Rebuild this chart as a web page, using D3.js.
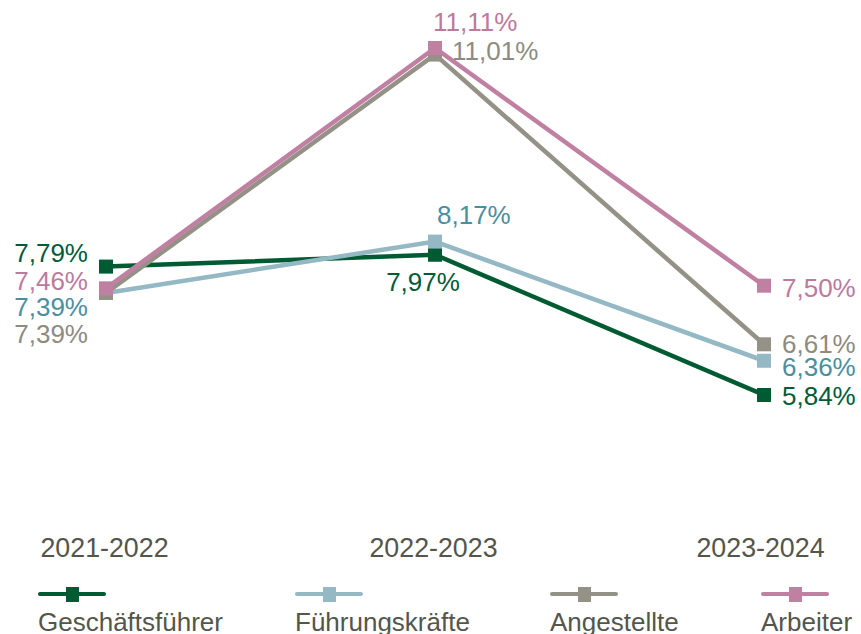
<!DOCTYPE html>
<html>
<head>
<meta charset="utf-8">
<script src="https://cdn.jsdelivr.net/npm/d3@7"></script>
<style>
  body { margin: 0; background: #fff; }
  svg text { font-family: "Liberation Sans", Arial, sans-serif; }
</style>
</head>
<body>
<div id="chart"></div>
<script>
var periods = ["2021-2022", "2022-2023", "2023-2024"];
var seriesNames = ["Geschäftsführer", "Führungskräfte", "Angestellte", "Arbeiter"];
var geschaeftsfuehrer = [7.79, 7.97, 5.84];
var fuehrungskraefte = [7.39, 8.17, 6.36];
var angestellte = [7.39, 11.01, 6.61];
var arbeiter = [7.46, 11.11, 7.50];

var lineColors = ["#005a32", "#95b9c4", "#949286", "#c080a2"];
var textColors = ["#005c36", "#4c8e9e", "#8e8b7e", "#bc7a9d"];

// label placement per series and period: [dx, dy, anchor]
var labelPos = [
  [[-18, -5, "end"], [-12, 36, "middle"], [18, 10, "start"]],
  [[-18, 23, "end"], [2, -18, "start"], [18, 15, "start"]],
  [[-18, 50, "end"], [17, 5, "start"], [18, 9, "start"]],
  [[-18, 2, "end"], [-2, -17, "start"], [18, 11, "start"]]
];

var width = 861, height = 634;
var series = [geschaeftsfuehrer, fuehrungskraefte, angestellte, arbeiter];

var svg = d3.select("#chart").append("svg")
  .attr("width", width)
  .attr("height", height);

var x = d3.scalePoint()
  .domain(periods)
  .range([106, 764]);

var y = d3.scaleLinear()
  .domain([5.84, 11.11])
  .range([395, 48]);

function fmt(v) {
  return d3.format(".2f")(v).replace(".", ",") + "%";
}

var line = d3.line()
  .x(function(d, i) { return x(periods[i]); })
  .y(function(d) { return y(d); });

series.forEach(function(vals, s) {
  svg.append("path")
    .datum(vals)
    .attr("fill", "none")
    .attr("stroke", lineColors[s])
    .attr("stroke-width", 4.5)
    .attr("d", line);

  svg.selectAll(".m" + s)
    .data(vals)
    .enter().append("rect")
    .attr("x", function(d, i) { return x(periods[i]) - 7; })
    .attr("y", function(d) { return y(d) - 7; })
    .attr("width", 14)
    .attr("height", 14)
    .attr("fill", lineColors[s]);
});

// value labels
series.forEach(function(vals, s) {
  svg.selectAll(".l" + s)
    .data(vals)
    .enter().append("text")
    .attr("x", function(d, i) { return x(periods[i]) + labelPos[s][i][0]; })
    .attr("y", function(d, i) { return y(d) + labelPos[s][i][1]; })
    .attr("text-anchor", function(d, i) { return labelPos[s][i][2]; })
    .attr("font-size", 26)
    .attr("fill", textColors[s])
    .text(fmt);
});

// x axis labels
var xAxis = d3.axisBottom(x).tickSize(0).tickPadding(0);
var gx = svg.append("g")
  .attr("transform", "translate(0,538)")
  .call(xAxis);
gx.select(".domain").remove();
gx.selectAll("text")
  .attr("font-size", 26.8)
  .attr("font-family", "Liberation Sans, Arial, sans-serif")
  .attr("fill", "#55554a")
  .attr("dy", "0.71em")
  .attr("dx", function(d, i) { return i === 2 ? -4 : -2; });

// legend
var legendX = [40, 297, 552, 763];
var legend = svg.selectAll(".legend")
  .data(seriesNames)
  .enter().append("g")
  .attr("transform", function(d, i) { return "translate(" + legendX[i] + ",594)"; });

legend.append("line")
  .attr("x1", 0).attr("x2", 64)
  .attr("stroke", function(d, i) { return lineColors[i]; })
  .attr("stroke-width", 4)
  .attr("stroke-linecap", "round");

legend.append("rect")
  .attr("x", 26).attr("y", -7)
  .attr("width", 13).attr("height", 15)
  .attr("fill", function(d, i) { return lineColors[i]; });

legend.append("text")
  .attr("x", -2)
  .attr("y", 37)
  .attr("font-size", 26)
  .attr("fill", "#55554a")
  .text(function(d) { return d; });
</script>
</body>
</html>
